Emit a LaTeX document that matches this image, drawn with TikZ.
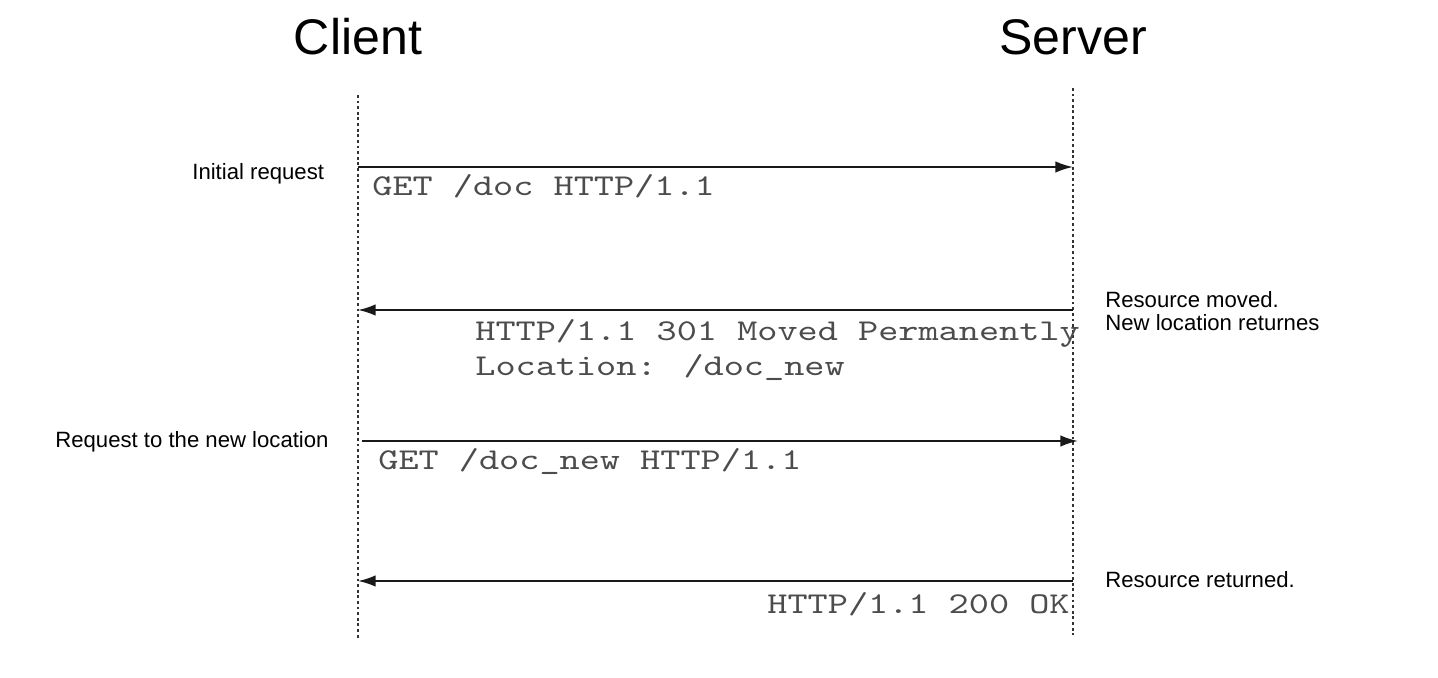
\documentclass[tikz,border=0pt]{standalone}
\usepackage{fontspec}
\setmainfont{Liberation Sans}
\newfontfamily\codefont{lmmono10-regular.otf}[FakeStretch=1.27]
\usetikzlibrary{arrows.meta,positioning}

\tikzset{
  lifeline/.style={black!80, line width=0.6pt, dash pattern=on 1.6pt off 1.6pt},
  msg/.style={black!90, line width=1.1pt, ->},
  title/.style={font=\fontsize{28.5}{34}\selectfont, inner sep=0pt},
  note/.style={font=\fontsize{12.6}{13.1}\selectfont, inner sep=0pt, align=left},
  code/.style={font=\codefont\fontsize{17.2}{20}\selectfont, text=black!70, inner sep=0pt, align=left}
}

\begin{document}
\begin{tikzpicture}[x=0.02cm, y=-0.02cm, >={Latex[length=10pt,width=6.5pt]}]
\useasboundingbox (0,0) rectangle (1438,678);

% actors
\node[title, anchor=base] (client) at (358,55) {Client};
\node[title, anchor=base] (server) at (1073,55) {Server};

% lifelines
\coordinate (ctop) at (358,95);
\coordinate (cbot) at (358,640);
\coordinate (stop) at (1073,88);
\coordinate (sbot) at (1073,635);
\draw[lifeline] (ctop) -- (cbot);
\draw[lifeline] (stop) -- (sbot);

% message ends
\coordinate (c1) at (358,167);
\coordinate (s1) at (1073,167);
\coordinate (s2) at (1073,310);
\coordinate (c2) at (358,310);
\coordinate (c3) at (362,441);
\coordinate (s3) at (1078,441);
\coordinate (s4) at (1073,581);
\coordinate (c4) at (358,581);

\draw[msg] (c1) -- (s1);
\draw[msg] (s2) -- (c2);
\draw[msg] (c3) -- (s3);
\draw[msg] (s4) -- (c4);

% message texts (base = last line)
\node[code, anchor=base west] (get1) at (372,196) {GET /doc HTTP/1.1};
\node[code, anchor=base west] (moved) at (475,376) {HTTP/1.1 301 Moved Permanently\\Location: /doc\_new};
\node[code, anchor=base west] (get2) at (378,470) {GET /doc\_new HTTP/1.1};
\node[code, anchor=base east] (ok) at (1070,614) {HTTP/1.1 200 OK};

% notes
\node[note, anchor=base west] (initial) at (192,180) {Initial request};
\node[note, anchor=base west] (newreq) at (55,448) {Request to the new location};
\node[note, anchor=base west] (movednote) at (1105,331) {Resource moved.\\New location returnes};
\node[note, anchor=base west] (returned) at (1105,588) {Resource returned.};

\end{tikzpicture}
\end{document}
